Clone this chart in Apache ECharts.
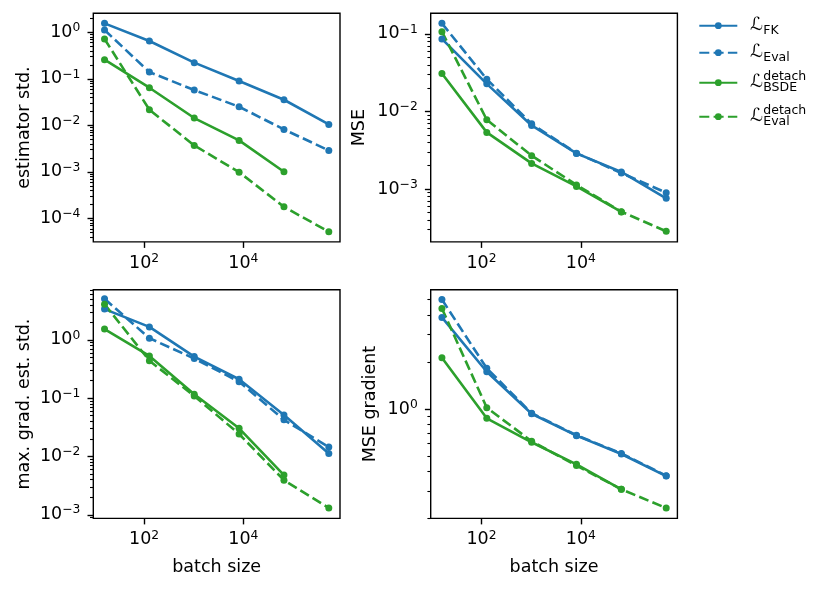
<!DOCTYPE html>
<html><head><meta charset="utf-8">
<script src="https://cdn.jsdelivr.net/npm/echarts@6/dist/echarts.min.js"></script>
<style>html,body{margin:0;padding:0;background:#fff}#c{width:831px;height:589px}</style>
</head><body><div id="c"></div>
<script>
// ---- data ----
const batchSizes = [16, 128, 1024, 8192, 65536, 524288];
const xTickValues = [100, 10000];

// estimator std.
const stdFK          = [1.56, 0.65, 0.223, 0.0898, 0.0356, 0.0105];
const stdEval        = [1.12, 0.140, 0.0575, 0.0252, 0.0082, 0.0029];
const stdBSDEdetach  = [0.258, 0.0646, 0.0144, 0.00476, 0.00101];
const stdEvalDetach  = [0.72, 0.0217, 0.00372, 0.00099, 0.000178, 0.000052];
// MSE
const mseFK          = [0.0862, 0.0227, 0.0066, 0.00288, 0.00166, 0.00076];
const mseEval        = [0.137, 0.0261, 0.00693, 0.00290, 0.00161, 0.000897];
const mseBSDEdetach  = [0.0308, 0.00537, 0.00214, 0.00108, 0.000506];
const mseEvalDetach  = [0.107, 0.00781, 0.00269, 0.00113, 0.000510, 0.000285];
// max. grad. est. std.
const gstdFK         = [3.37, 1.67, 0.517, 0.211, 0.0515, 0.0113];
const gstdEval       = [5.06, 1.07, 0.478, 0.192, 0.0425, 0.0145];
const gstdBSDEdetach = [1.53, 0.53, 0.117, 0.0304, 0.00479];
const gstdEvalDetach = [4.1, 0.44, 0.109, 0.0243, 0.00393, 0.00131];
// MSE gradient
const mgFK           = [3.85, 1.73, 0.933, 0.676, 0.516, 0.373];
const mgEval         = [5.01, 1.82, 0.94, 0.68, 0.52, 0.375];
const mgBSDEdetach   = [2.13, 0.872, 0.613, 0.443, 0.307];
const mgEvalDetach   = [4.39, 1.02, 0.622, 0.435, 0.307, 0.233];

const seriesNames = ['FK', 'Eval', 'BSDEdetach', 'EvalDetach'];
const xAxisName = 'batch size';
const yAxisNames = ['estimator std.', 'MSE', 'max. grad. est. std.', 'MSE gradient'];

// ---- layout / style ----
const FF = 'DejaVu Sans';
const BLUE = '#1f77b4', GREEN = '#2ca02c';
const colors = [BLUE, BLUE, GREEN, GREEN];
const dashed = [false, true, false, true];
const panelData = [
  [stdFK, stdEval, stdBSDEdetach, stdEvalDetach],
  [mseFK, mseEval, mseBSDEdetach, mseEvalDetach],
  [gstdFK, gstdEval, gstdBSDEdetach, gstdEvalDetach],
  [mgFK, mgEval, mgBSDEdetach, mgEvalDetach]
];
// axis limits (log10 units), matching matplotlib's 5% margins
const xLim = [0.978, 5.945];
const yLims = [[-4.503, 0.409], [-3.682, -0.734], [-3.062, 0.859], [-0.699, 0.762]];
const gridPos = [
  {left: 93.3, top: 13.3}, {left: 430.7, top: 13.3},
  {left: 93.3, top: 289.8}, {left: 430.7, top: 289.8}
];
const GW = 246.7, GH = 228.6;
const yNameGaps = [60, 62, 60, 51];

const lg = v => Math.log10(v);
function powLabel(v) {
  const n = Math.round(v);
  const s = n < 0 ? '\u2212' + (-n) : String(n);
  return '{b|10}{s|' + s + '}';
}
const richPow = {
  b: {fontSize: 17.5, fontFamily: FF, color: '#000'},
  s: {fontSize: 12.3, fontFamily: FF, color: '#000', padding: [0, 0, 9, 0]}
};
function majors(r) { const a = []; for (let n = Math.ceil(r[0]); n <= r[1]; n++) a.push(n); return a; }
function minors(r) {
  const a = [];
  for (let n = Math.floor(r[0]) - 1; n <= Math.ceil(r[1]); n++)
    for (let k = 2; k <= 9; k++) { const v = n + Math.log10(k); if (v >= r[0] && v <= r[1]) a.push(v); }
  return a;
}

const grids = [], xAxes = [], yAxes = [], series = [];
for (let p = 0; p < 4; p++) {
  grids.push({left: gridPos[p].left, top: gridPos[p].top, width: GW, height: GH,
    show: true, borderColor: '#000', borderWidth: 1.4, backgroundColor: 'transparent'});
}
for (let p = 0; p < 4; p++) {
  const xt = xTickValues.map(lg);
  xAxes.push({
    type: 'value', gridIndex: p, min: xLim[0], max: xLim[1], position: 'bottom',
    name: p >= 2 ? xAxisName : '', nameLocation: 'middle', nameGap: 40,
    nameTextStyle: {fontSize: 17.5, fontFamily: FF, color: '#000'},
    axisLine: {show: false, onZero: false}, splitLine: {show: false},
    axisTick: {show: true, customValues: xt, length: 6, lineStyle: {color: '#000', width: 1.4}},
    axisLabel: {customValues: xt, formatter: powLabel, rich: richPow, margin: 11}
  });
}
for (let p = 0; p < 4; p++) {
  const yr = yLims[p];
  yAxes.push({
    type: 'value', gridIndex: p, min: yr[0], max: yr[1], position: 'left',
    name: yAxisNames[p], nameLocation: 'middle', nameGap: yNameGaps[p],
    nameTextStyle: {fontSize: 17.5, fontFamily: FF, color: '#000'},
    axisLine: {show: false, onZero: false}, splitLine: {show: false},
    axisTick: {show: true, customValues: majors(yr), length: 5.8, lineStyle: {color: '#000', width: 1.4}},
    axisLabel: {customValues: majors(yr), formatter: powLabel, rich: richPow, margin: 13}
  });
}
// minor-tick axes (log minor ticks at 2..9 x 10^n)
for (let p = 0; p < 4; p++) {
  const yr = yLims[p];
  const mv = minors(yr);
  yAxes.push({
    type: 'value', gridIndex: p, min: yr[0], max: yr[1], position: 'left', offset: 0,
    axisLine: {show: false, onZero: false}, splitLine: {show: false},
    axisLabel: {show: true, customValues: mv, formatter: () => ''},
    axisTick: {show: true, customValues: mv, length: 3.3, lineStyle: {color: '#000', width: 1.1}}
  });
}
for (let p = 0; p < 4; p++) {
  const d = panelData[p];
  for (let s = 0; s < 4; s++) {
    const arr = d[s];
    series.push({
      type: 'line', name: seriesNames[s], xAxisIndex: p, yAxisIndex: p,
      data: arr.map((v, i) => [lg(batchSizes[i]), lg(v)]),
      symbol: 'circle', symbolSize: 7, showSymbol: true,
      lineStyle: {color: colors[s], width: 2.6, type: dashed[s] ? [10, 4.3] : 'solid'},
      itemStyle: {color: colors[s]},
      emphasis: {disabled: true}, silent: true, clip: false
    });
  }
}

const legendText = {
  FK: '{L|\u2112}{sub|FK}',
  Eval: '{L|\u2112}{sub|Eval}',
  BSDEdetach: '{L|\u2112}{sup|detach}{sub|BSDE}',
  EvalDetach: '{L|\u2112}{sup|detach}{sub|Eval}'
};
const legendCenters = [25.7, 52.7, 82.7, 116.7];
const richLeg = {
  L: {fontSize: 18, fontFamily: FF, color: '#000', lineHeight: 30, padding: [0, 0, 0, 8]},
  sub: {fontSize: 12.5, fontFamily: FF, color: '#000', lineHeight: 30, padding: [10, 0, 0, 0]},
  sup: {fontSize: 12.5, fontFamily: FF, color: '#000', lineHeight: 30, padding: [0, 0, 11, 0], width: 0}
};
const legends = seriesNames.map((n, i) => ({
  data: [n], orient: 'vertical', left: 698.3, top: legendCenters[i] - 15, padding: 0,
  itemWidth: 38, itemHeight: 8.5, selectedMode: false,
  formatter: nm => legendText[nm],
  textStyle: {fontFamily: FF, fontSize: 18, color: '#000', lineHeight: 30, rich: richLeg}
}));

const chart = echarts.init(document.getElementById('c'), null, {renderer: 'canvas'});
chart.setOption({
  animation: false, backgroundColor: '#fff',
  grid: grids, xAxis: xAxes, yAxis: yAxes, series: series, legend: legends
});
</script></body></html>
